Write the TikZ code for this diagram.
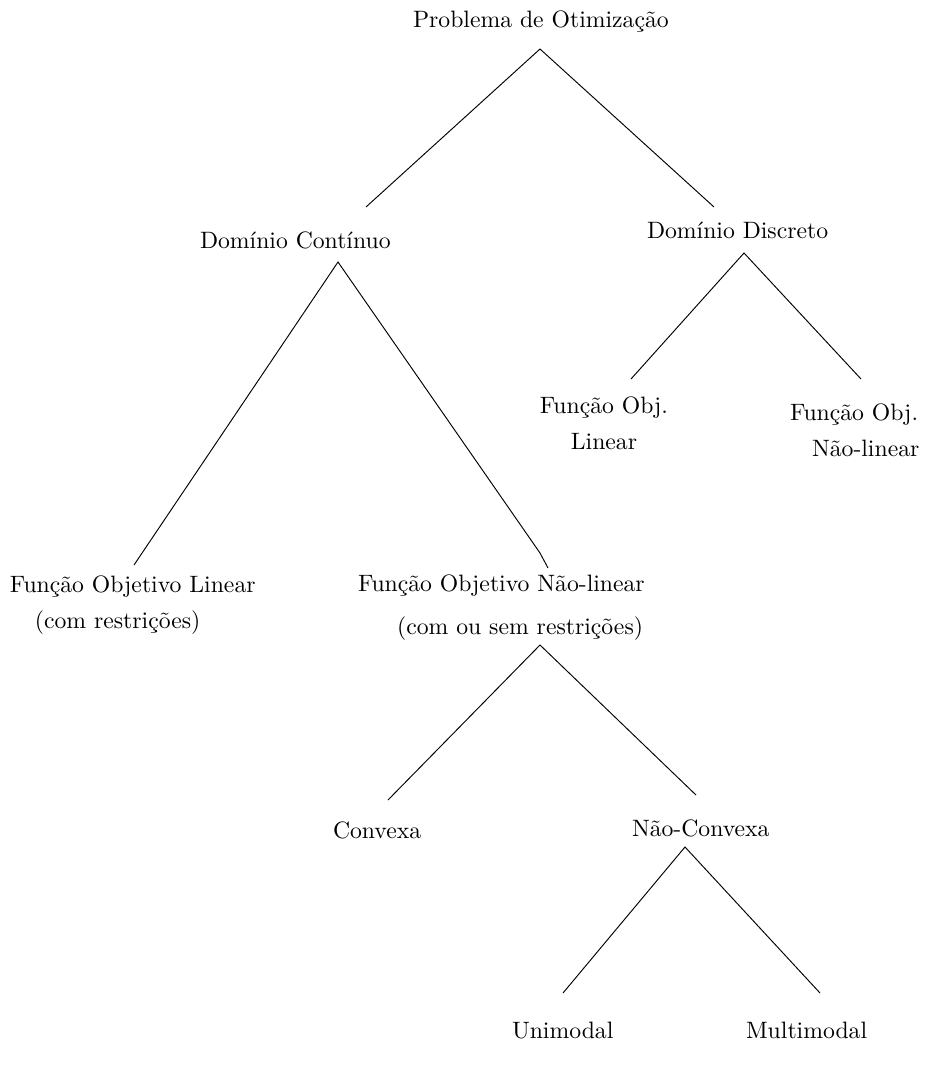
\documentclass[tikz,border=0pt]{standalone}
\begin{document}
\begin{tikzpicture}[x=0.422pt,y=-0.422pt,
  lbl/.style={anchor=base west,inner sep=0pt,outer sep=0pt,align=left},
  clbl/.style={anchor=base,inner sep=0pt,outer sep=0pt,align=center},
  edge/.style={line width=0.4pt}]
\useasboundingbox (0,0) rectangle (936,1068);
\node[lbl] (root) at (413,27) {Problema de Otimização};
\node[lbl] (dc) at (200,248) {Domínio Contínuo};
\node[lbl] (dd) at (647,238) {Domínio Discreto};
\node[clbl] (fol) at (604,449) {Função Obj.\\[2.8pt]Linear};
\node[lbl] (fonl) at (790,456) {Função Obj.\\[2.8pt]\hspace*{9.3pt}Não-linear};
\node[lbl] (fl) at (10,628) {Função Objetivo Linear\\[2.8pt]\hspace*{10.5pt}(com restrições)};
\node[lbl] (fnl) at (358,634) {Função Objetivo Não-linear\\[6pt]\hspace*{16.5pt}(com ou sem restrições)};
\node[lbl] (cv) at (333,838) {Convexa};
\node[lbl] (ncv) at (632,836) {Não-Convexa};
\node[lbl] (uni) at (512,1038) {Unimodal};
\node[lbl] (mul) at (746,1038) {Multimodal};
\coordinate (rootB) at (540,49);
\coordinate (dcT) at (366,207);
\coordinate (ddT) at (714,207);
\coordinate (dcB) at (338,262);
\coordinate (flT) at (134,565);
\coordinate (fnlK) at (540,553);
\coordinate (fnlT) at (548,568);
\coordinate (ddB) at (744,253);
\coordinate (folT) at (631,379);
\coordinate (fonlT) at (861,379);
\coordinate (fnlB) at (540,645);
\coordinate (cvT) at (388,800);
\coordinate (ncvT) at (696,795);
\coordinate (ncvB) at (685,847);
\coordinate (uniT) at (563,993);
\coordinate (mulT) at (820,993);
\draw[edge] (dcT) -- (rootB) -- (ddT);
\draw[edge] (flT) -- (dcB) -- (fnlK) -- (fnlT);
\draw[edge] (folT) -- (ddB) -- (fonlT);
\draw[edge] (cvT) -- (fnlB) -- (ncvT);
\draw[edge] (uniT) -- (ncvB) -- (mulT);
\end{tikzpicture}
\end{document}
